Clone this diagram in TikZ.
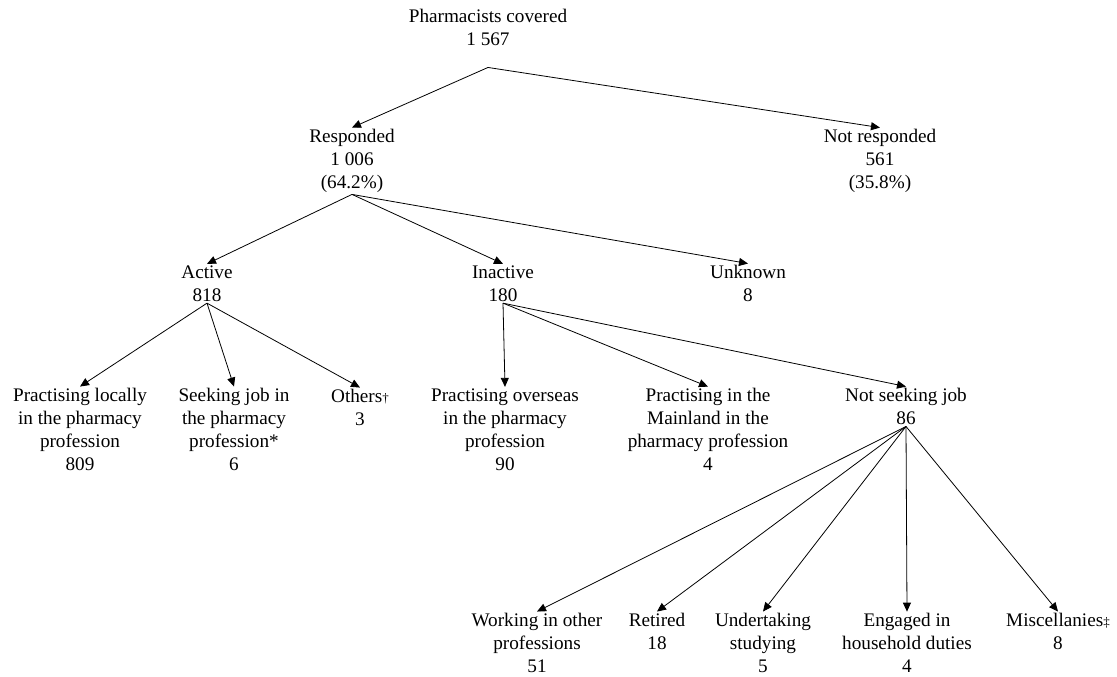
\documentclass[tikz,border=0pt]{standalone}
\usepackage{fontspec}
\setmainfont{Liberation Serif}
\usetikzlibrary{arrows.meta,calc}
\newcommand{\smallmark}[1]{{\fontsize{13}{13}\selectfont #1}}
\begin{document}
\begin{tikzpicture}[x=1pt,y=-1pt,
  lbl/.style={align=center,inner sep=1.5pt,font=\fontsize{19.2}{23}\selectfont},
  arr/.style={-{Triangle[length=9pt,width=8pt]},line width=0.8pt}]
\useasboundingbox (0,0) rectangle (1117,677);
\node[lbl] (top) at (488,27.5) {Pharmacists covered\\1 567};
\node[lbl] (resp) at (352,161) {Responded\\1 006\\(64.2\%)};
\node[lbl] (notresp) at (880,161) {Not responded\\561\\(35.8\%)};
\node[lbl] (active) at (207,283.5) {Active\\818};
\node[lbl] (inactive) at (503,283.5) {Inactive\\180};
\node[lbl] (unknown) at (748,283.5) {Unknown\\8};
\node[lbl] (loc) at (80,429.5) {Practising locally\\in the pharmacy\\profession\\809};
\node[lbl] (seek) at (234,429.5) {Seeking job in\\the pharmacy\\profession*\\6};
\node[lbl] (others) at (360,407.5) {Others\smallmark{†}\\3};
\node[lbl] (overseas) at (505,429.5) {Practising overseas\\in the pharmacy\\profession\\90};
\node[lbl] (mainland) at (708,429.5) {Practising in the\\Mainland in the\\pharmacy profession\\4};
\node[lbl] (notseek) at (906,406.5) {Not seeking job\\86};
\node[lbl] (working) at (537,643) {Working in other\\professions\\51};
\node[lbl] (retired) at (657,631.5) {Retired\\18};
\node[lbl] (studying) at (763,643) {Undertaking\\studying\\5};
\node[lbl] (household) at (907,643) {Engaged in\\household duties\\4};
\node[lbl] (misc) at (1058,631.5) {Miscellanies\smallmark{‡}\\8};
\coordinate (topo) at ($(top.south)+(0,20)$);
\draw[arr] (topo) -- (resp.north);
\draw[arr] (topo) -- (notresp.north);
\draw[arr] (resp.south) -- (active.north);
\draw[arr] (resp.south) -- (inactive.north);
\draw[arr] (resp.south) -- (unknown.north);
\draw[arr] (active.south) -- (loc.north);
\draw[arr] (active.south) -- (seek.north);
\draw[arr] (active.south) -- (others.north);
\draw[arr] (inactive.south) -- (overseas.north);
\draw[arr] (inactive.south) -- (mainland.north);
\draw[arr] (inactive.south) -- (notseek.north);
\draw[arr] (notseek.south) -- (working.north);
\draw[arr] (notseek.south) -- (retired.north);
\draw[arr] (notseek.south) -- (studying.north);
\draw[arr] (notseek.south) -- (household.north);
\draw[arr] (notseek.south) -- (misc.north);
\end{tikzpicture}
\end{document}
